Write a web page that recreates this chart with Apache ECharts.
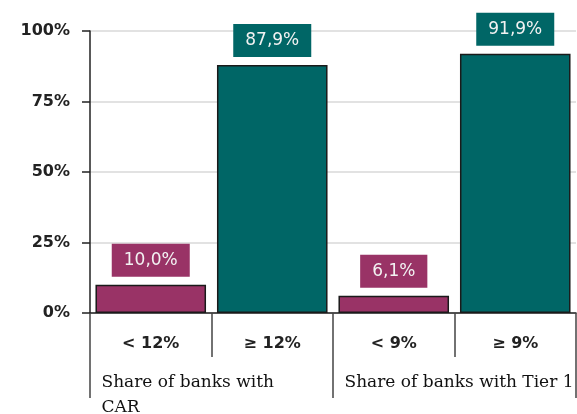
<!DOCTYPE html>
<html>
<head>
<meta charset="utf-8">
<script src="https://cdn.jsdelivr.net/npm/echarts@6/dist/echarts.min.js"></script>
<style>
  html, body { margin: 0; padding: 0; background: #fff; }
  #chart { width: 577px; height: 414px; }
</style>
</head>
<body>
<div id="chart"></div>
<script>
// Datos del gráfico
const categories = ['< 12%', '≥ 12%', '< 9%', '≥ 9%'];
const values = [10.0, 87.9, 6.1, 91.9];
const groups = ['Share of banks with\nCAR', 'Share of banks with Tier 1'];
const yTicks = [0, 25, 50, 75, 100];

const maroon = '#993366';
const teal = '#006666';
const barColors = [maroon, teal, maroon, teal];

document.addEventListener('DOMContentLoaded', function() {
    const chart = echarts.init(document.getElementById('chart'));

    const barData = values.map((v, i) => ({
        value: v,
        itemStyle: { color: barColors[i] },
        label: { backgroundColor: barColors[i] }
    }));

    chart.setOption({
        animation: false,
        grid: { left: 90, right: 1, top: 31, bottom: 101, outerBoundsMode: 'none', containLabel: false },
        xAxis: [{
            type: 'category',
            data: categories,
            axisLine: { lineStyle: { color: '#222', width: 1.5 } },
            axisTick: { show: true, alignWithLabel: false, length: 44, lineStyle: { color: '#444', width: 1.5 } },
            axisLabel: {
                margin: 23,
                color: '#222',
                fontFamily: 'DejaVu Sans',
                fontSize: 16,
                fontWeight: 'bold'
            }
        }, {
            type: 'category',
            position: 'bottom',
            data: groups,
            axisLine: { show: false },
            axisTick: { show: true, alignWithLabel: false, length: 85, lineStyle: { color: '#444', width: 1.5 } },
            axisLabel: {
                margin: 57,
                align: 'center',
                formatter: function(v) {
                    return v.split('\n').map(s => '{a|' + s + '}').join('\n');
                },
                rich: {
                    a: {
                        width: 220,
                        align: 'left',
                        color: '#111',
                        fontFamily: 'DejaVu Serif',
                        fontSize: 17,
                        lineHeight: 25
                    }
                }
            }
        }],
        yAxis: {
            type: 'value',
            min: yTicks[0],
            max: yTicks[yTicks.length - 1],
            interval: 25,
            axisLine: { show: true, lineStyle: { color: '#222', width: 1.5 } },
            axisTick: { show: true, length: 8, lineStyle: { color: '#222', width: 1.5 } },
            splitLine: { lineStyle: { color: '#d9d9d9', width: 1.5 } },
            axisLabel: {
                margin: 20,
                color: '#222',
                fontFamily: 'DejaVu Sans',
                fontSize: 16,
                fontWeight: 'bold',
                formatter: '{value}%'
            }
        },
        series: [{
            type: 'bar',
            xAxisIndex: 0,
            data: barData,
            barCategoryGap: '9%',
            itemStyle: { borderColor: '#1a1a1a', borderWidth: 1.5 },
            label: {
                show: true,
                position: 'top',
                distance: 8,
                color: '#f2f2f2',
                fontFamily: 'DejaVu Sans',
                fontSize: 17,
                lineHeight: 19,
                padding: [7, 12],
                formatter: p => p.value.toFixed(1).replace('.', ',') + '%'
            }
        }]
    });

    window.addEventListener('resize', () => chart.resize());
});
</script>
</body>
</html>
